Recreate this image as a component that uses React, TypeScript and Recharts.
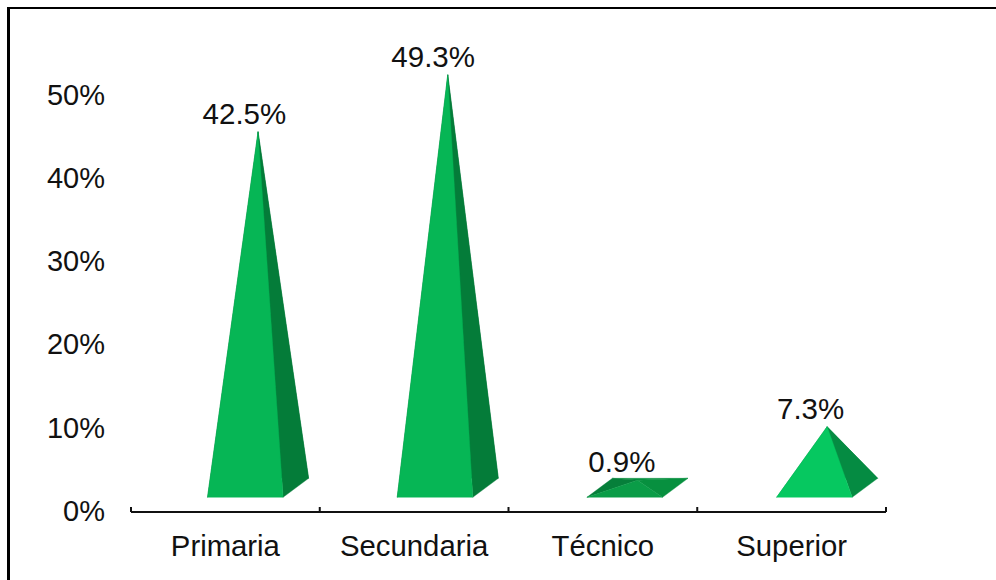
import React from "react";
import { BarChart, Bar, XAxis, YAxis, LabelList } from "recharts";

const levels = ["Primaria", "Secundaria", "Técnico", "Superior"];
const shares = [42.5, 49.3, 0.9, 7.3];
const yTicks = [0, 10, 20, 30, 40, 50];

// front, right and left face colours per pyramid
const frontFaces = ["#06b655", "#06b655", "#0a9c47", "#06c860"];
const rightFaces = ["#047c39", "#047c39", "#07903f", "#058b42"];
const leftFaces = ["#047c39", "#047c39", "#067f3a", "#058b42"];

const rows = levels.map((level, i) => ({ level, share: shares[i] }));

const CHART_W = 996;
const CHART_H = 580;
const PLOT_LEFT = 131;
const PLOT_RIGHT = 886;
const AXIS_Y = 512;
const FONT = "'Liberation Sans', Arial, sans-serif";
const FONT_SIZE = 29;
const BAND = (PLOT_RIGHT - PLOT_LEFT) / levels.length;

// oblique projection of the floor: the pyramids sit above and right of the axis
const BASE_W = 75.6;
const FLOOR_Y = 497.3;
const DEPTH_X = 25.5;
const DEPTH_Y = 19;
const FRONT_SHIFT = 19.5;
const STEP_DRIFT = 0.95;
const HEIGHT_SCALE = 1.007;
const LABEL_SHIFT = 18.6;

const pts = (list: number[][]) => list.map((p) => p.join(",")).join(" ");

function apexOf(x: number, y: number, index: number) {
  const left = x + FRONT_SHIFT + index * STEP_DRIFT;
  return {
    left,
    apexX: left + (BASE_W + DEPTH_X) / 2,
    apexY: FLOOR_Y - DEPTH_Y / 2 - (AXIS_Y - y) * HEIGHT_SCALE,
  };
}

function Face({ points, color }: { points: number[][]; color: string }) {
  // a hairline in the face colour closes the seams between neighbouring polygons
  return <polygon points={pts(points)} fill={color} stroke={color} strokeWidth={0.4} strokeLinejoin="round" />;
}

function Pyramid(props: any) {
  const { x, y, index } = props;
  const { left, apexX, apexY } = apexOf(x, y, index);
  const right = left + BASE_W;
  const backY = FLOOR_Y - DEPTH_Y;
  const apex = [apexX, apexY];
  return (
    <g>
      <Face points={[[left + DEPTH_X, backY], [right + DEPTH_X, backY], apex]} color={rightFaces[index]} />
      <Face points={[[left, FLOOR_Y], [left + DEPTH_X, backY], apex]} color={leftFaces[index]} />
      <Face points={[[right, FLOOR_Y], [right + DEPTH_X, backY], apex]} color={rightFaces[index]} />
      <Face points={[[left, FLOOR_Y], [right, FLOOR_Y], apex]} color={frontFaces[index]} />
    </g>
  );
}

function ShareLabel(props: any) {
  const { x, y, index, value } = props;
  const { apexY } = apexOf(x, y, index);
  return (
    <text
      x={x + BASE_W / 2 + LABEL_SHIFT}
      y={apexY - 8}
      textAnchor="middle"
      fontFamily={FONT}
      fontSize={29.5}
      fill="#111"
    >
      {value}%
    </text>
  );
}

// category label centred in its band, with tick marks on the band edges
function LevelTick(props: any) {
  const { payload, index } = props;
  const cx = payload.coordinate;
  const edge = cx + BAND / 2;
  return (
    <g>
      {index === 0 && (
        <line x1={cx - BAND / 2} x2={cx - BAND / 2} y1={AXIS_Y - 5} y2={AXIS_Y} stroke="#111" strokeWidth={2} />
      )}
      <line x1={edge} x2={edge} y1={AXIS_Y - 5} y2={AXIS_Y} stroke="#111" strokeWidth={2} />
      <text x={cx} y={AXIS_Y + 44} textAnchor="middle" fontFamily={FONT} fontSize={29.3} fill="#111">
        {payload.value}
      </text>
    </g>
  );
}

export default function App() {
  return (
    <div style={{ position: "absolute", left: 0, top: 0, width: CHART_W, height: CHART_H, overflow: "hidden", background: "#fff" }}>
      <div
        style={{
          position: "absolute",
          left: 7,
          top: 7,
          right: 0,
          bottom: 0,
          borderLeft: "3px solid #000",
          borderTop: "2px solid #000",
        }}
      />
      <div style={{ position: "absolute", left: 0, top: 0 }}>
        <BarChart
          width={CHART_W}
          height={CHART_H}
          data={rows}
          margin={{ top: 96, right: CHART_W - PLOT_RIGHT, bottom: 0, left: 0 }}
        >
          <XAxis
            dataKey="level"
            height={CHART_H - AXIS_Y}
            interval={0}
            tickLine={false}
            axisLine={{ stroke: "#111", strokeWidth: 2 }}
            tick={<LevelTick />}
          />
          <YAxis
            width={PLOT_LEFT}
            domain={[0, 50]}
            ticks={yTicks}
            tickFormatter={(v) => `${v}%`}
            axisLine={false}
            tickLine={false}
            tickMargin={26}
            tickSize={0}
            tick={{ fontFamily: FONT, fontSize: FONT_SIZE, fill: "#111", dy: -1.5 }}
          />
          <Bar dataKey="share" barSize={BASE_W} shape={<Pyramid />} isAnimationActive={false}>
            <LabelList dataKey="share" content={<ShareLabel />} />
          </Bar>
        </BarChart>
      </div>
    </div>
  );
}
